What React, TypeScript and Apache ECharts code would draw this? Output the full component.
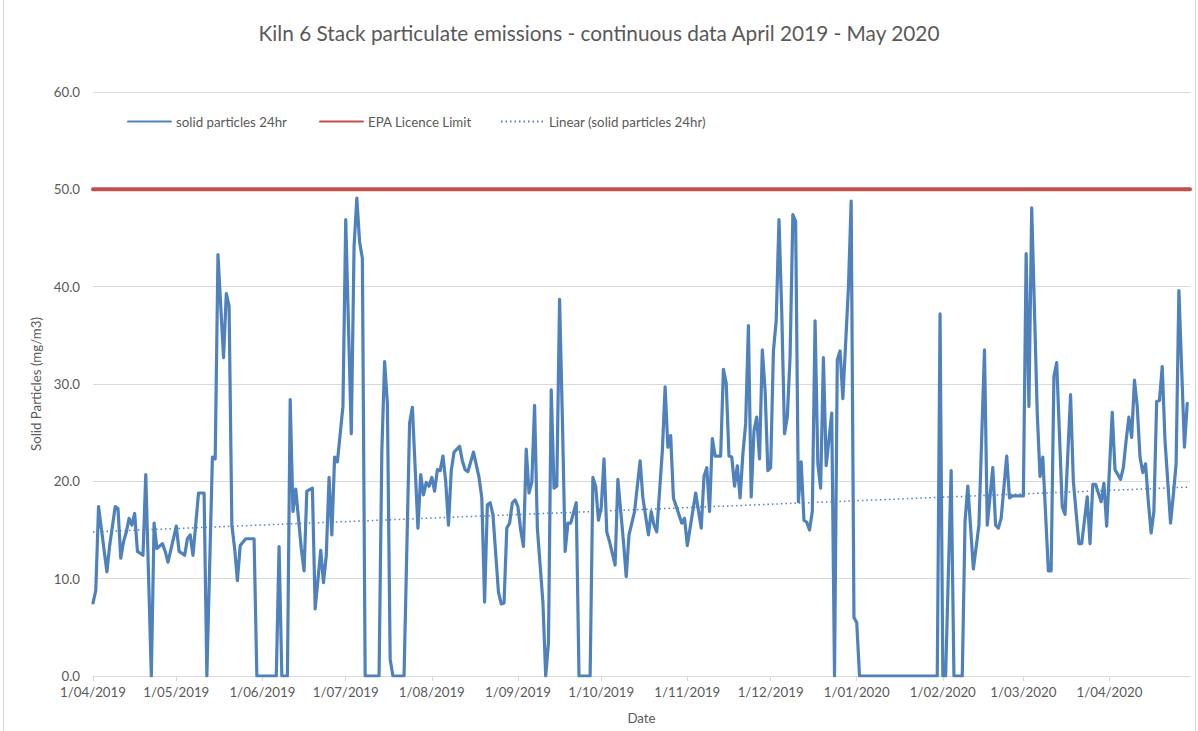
import React, { useEffect, useRef } from "react";
import * as echarts from "echarts";

const chartTitle = "Kiln 6 Stack particulate emissions - continuous data April 2019 - May 2020";
const yAxisTitle = "Solid Particles (mg/m3)";
const xAxisTitle = "Date";
const seriesNames = ["solid particles 24hr", "EPA Licence Limit", "Linear (solid particles 24hr)"];

const monthTicks = [
  "1/04/2019", "1/05/2019", "1/06/2019", "1/07/2019", "1/08/2019", "1/09/2019", "1/10/2019",
  "1/11/2019", "1/12/2019", "1/01/2020", "1/02/2020", "1/03/2020", "1/04/2020",
];
const axisStartDate = "2019-04-01";
const axisEndDate = "2020-04-30";

const solidParticles24hr: [string, number][] = [
  ["2019-04-01", 7.5], ["2019-04-02", 8.8], ["2019-04-03", 17.4], ["2019-04-06", 10.7], ["2019-04-07", 13.4],
  ["2019-04-09", 17.4], ["2019-04-10", 17.2], ["2019-04-11", 12.1], ["2019-04-12", 13.8], ["2019-04-13", 14.8],
  ["2019-04-14", 16.2], ["2019-04-15", 15.5], ["2019-04-16", 16.7], ["2019-04-17", 12.8], ["2019-04-19", 12.4],
  ["2019-04-20", 20.7], ["2019-04-22", 0], ["2019-04-23", 15.7], ["2019-04-24", 13.1], ["2019-04-26", 13.6],
  ["2019-04-27", 12.8], ["2019-04-28", 11.7],
  ["2019-05-01", 15.4], ["2019-05-02", 12.8], ["2019-05-04", 12.4], ["2019-05-05", 14.1], ["2019-05-06", 14.5],
  ["2019-05-07", 12.4], ["2019-05-09", 18.8], ["2019-05-11", 18.8], ["2019-05-12", 0], ["2019-05-14", 22.5],
  ["2019-05-15", 22.3], ["2019-05-16", 43.3], ["2019-05-18", 32.7], ["2019-05-19", 39.3], ["2019-05-20", 38.0],
  ["2019-05-21", 15.5], ["2019-05-22", 13.1], ["2019-05-23", 9.8], ["2019-05-24", 13.4], ["2019-05-26", 14.1],
  ["2019-05-29", 14.1], ["2019-05-30", 0],
  ["2019-06-06", 0], ["2019-06-07", 13.3], ["2019-06-08", 0], ["2019-06-10", 0], ["2019-06-11", 28.4],
  ["2019-06-12", 16.9], ["2019-06-13", 19.2], ["2019-06-15", 13.1], ["2019-06-16", 10.8], ["2019-06-17", 19.0],
  ["2019-06-19", 19.3], ["2019-06-20", 6.9], ["2019-06-22", 12.9], ["2019-06-23", 9.6], ["2019-06-24", 12.4],
  ["2019-06-25", 20.4], ["2019-06-26", 14.5], ["2019-06-27", 22.5], ["2019-06-28", 22.0], ["2019-06-30", 27.7],
  ["2019-07-01", 46.9], ["2019-07-03", 24.9], ["2019-07-04", 44.1], ["2019-07-05", 49.1], ["2019-07-06", 44.6],
  ["2019-07-07", 42.9], ["2019-07-08", 0], ["2019-07-13", 0], ["2019-07-14", 23.1], ["2019-07-15", 32.3],
  ["2019-07-16", 28.0], ["2019-07-17", 1.7], ["2019-07-18", 0], ["2019-07-22", 0], ["2019-07-24", 26.0],
  ["2019-07-25", 27.6], ["2019-07-27", 15.2], ["2019-07-28", 20.7], ["2019-07-29", 18.6], ["2019-07-30", 19.9],
  ["2019-07-31", 19.5],
  ["2019-08-01", 20.4], ["2019-08-02", 19.0], ["2019-08-03", 21.2], ["2019-08-04", 21.1], ["2019-08-05", 22.6],
  ["2019-08-06", 20.0], ["2019-08-07", 15.5], ["2019-08-08", 21.1], ["2019-08-09", 23.0], ["2019-08-11", 23.6],
  ["2019-08-12", 22.1], ["2019-08-13", 21.2], ["2019-08-14", 21.0], ["2019-08-16", 23.0], ["2019-08-18", 20.4],
  ["2019-08-19", 18.3], ["2019-08-20", 7.6], ["2019-08-21", 17.6], ["2019-08-22", 17.8], ["2019-08-23", 16.6],
  ["2019-08-25", 8.6], ["2019-08-26", 7.4], ["2019-08-27", 7.5], ["2019-08-28", 15.2], ["2019-08-29", 15.7],
  ["2019-08-30", 17.8], ["2019-08-31", 18.1],
  ["2019-09-01", 17.4], ["2019-09-02", 15.0], ["2019-09-03", 13.3], ["2019-09-04", 23.3], ["2019-09-05", 18.8],
  ["2019-09-06", 19.9], ["2019-09-07", 27.8], ["2019-09-08", 15.2], ["2019-09-10", 7.6], ["2019-09-11", 0],
  ["2019-09-12", 3.4], ["2019-09-13", 29.4], ["2019-09-14", 19.3], ["2019-09-15", 19.5], ["2019-09-16", 38.7],
  ["2019-09-17", 26.6], ["2019-09-18", 12.8], ["2019-09-19", 15.7], ["2019-09-20", 15.7], ["2019-09-22", 17.8],
  ["2019-09-23", 0], ["2019-09-27", 0], ["2019-09-28", 20.4], ["2019-09-29", 19.5], ["2019-09-30", 16.0],
  ["2019-10-01", 17.3], ["2019-10-02", 22.3], ["2019-10-03", 14.8], ["2019-10-04", 13.8], ["2019-10-06", 11.4],
  ["2019-10-07", 20.2], ["2019-10-09", 13.8], ["2019-10-10", 10.2], ["2019-10-11", 14.5], ["2019-10-13", 16.9],
  ["2019-10-15", 22.1], ["2019-10-16", 18.3], ["2019-10-18", 14.5], ["2019-10-19", 16.9], ["2019-10-20", 15.5],
  ["2019-10-21", 14.8], ["2019-10-23", 23.1], ["2019-10-24", 29.7], ["2019-10-25", 23.5], ["2019-10-26", 24.7],
  ["2019-10-27", 18.3], ["2019-10-30", 15.7], ["2019-10-31", 16.2],
  ["2019-11-01", 13.4], ["2019-11-04", 18.8], ["2019-11-06", 15.2], ["2019-11-07", 20.5], ["2019-11-08", 21.4],
  ["2019-11-09", 16.9], ["2019-11-10", 24.4], ["2019-11-11", 22.6], ["2019-11-13", 22.6], ["2019-11-14", 31.5],
  ["2019-11-15", 30.1], ["2019-11-16", 22.6], ["2019-11-17", 22.5], ["2019-11-18", 19.5], ["2019-11-19", 21.6],
  ["2019-11-20", 18.3], ["2019-11-21", 22.8], ["2019-11-22", 25.9], ["2019-11-23", 36.0], ["2019-11-24", 18.4],
  ["2019-11-25", 25.2], ["2019-11-26", 26.6], ["2019-11-27", 22.3], ["2019-11-28", 33.5], ["2019-11-29", 29.4],
  ["2019-11-30", 21.1],
  ["2019-12-01", 21.4], ["2019-12-02", 33.4], ["2019-12-03", 36.5], ["2019-12-04", 46.9], ["2019-12-05", 37.4],
  ["2019-12-06", 24.9], ["2019-12-07", 26.6], ["2019-12-08", 32.8], ["2019-12-09", 47.4], ["2019-12-10", 46.7],
  ["2019-12-11", 17.9], ["2019-12-12", 22.0], ["2019-12-13", 16.0], ["2019-12-14", 15.8], ["2019-12-15", 15.0],
  ["2019-12-16", 16.9], ["2019-12-17", 36.5], ["2019-12-18", 21.8], ["2019-12-19", 19.3], ["2019-12-20", 32.7],
  ["2019-12-21", 21.6], ["2019-12-23", 27.0], ["2019-12-24", 0], ["2019-12-25", 32.5], ["2019-12-26", 33.4],
  ["2019-12-27", 28.5], ["2019-12-29", 39.8], ["2019-12-30", 48.8], ["2019-12-31", 6.0],
  ["2020-01-01", 5.5], ["2020-01-02", 0], ["2020-01-30", 0], ["2020-01-31", 37.2],
  ["2020-02-01", 0], ["2020-02-02", 0], ["2020-02-04", 21.1], ["2020-02-05", 0], ["2020-02-08", 0],
  ["2020-02-09", 15.9], ["2020-02-10", 19.5], ["2020-02-12", 11.0], ["2020-02-14", 15.5], ["2020-02-16", 33.5],
  ["2020-02-17", 15.5], ["2020-02-19", 21.4], ["2020-02-20", 15.5], ["2020-02-21", 15.2], ["2020-02-22", 16.2],
  ["2020-02-24", 22.6], ["2020-02-25", 18.3], ["2020-02-26", 18.5],
  ["2020-03-01", 18.5], ["2020-03-02", 43.4], ["2020-03-03", 27.7], ["2020-03-04", 48.1], ["2020-03-06", 27.0],
  ["2020-03-07", 20.5], ["2020-03-08", 22.5], ["2020-03-10", 10.8], ["2020-03-11", 10.8], ["2020-03-12", 30.8],
  ["2020-03-13", 32.2], ["2020-03-15", 17.4], ["2020-03-16", 16.6], ["2020-03-18", 28.9], ["2020-03-19", 20.0],
  ["2020-03-21", 13.6], ["2020-03-22", 13.6], ["2020-03-24", 18.4], ["2020-03-25", 13.6], ["2020-03-26", 19.7],
  ["2020-03-27", 19.7], ["2020-03-29", 17.9], ["2020-03-30", 19.8], ["2020-03-31", 15.4],
  ["2020-04-02", 27.1], ["2020-04-03", 21.2], ["2020-04-05", 20.2], ["2020-04-06", 21.4], ["2020-04-07", 24.2],
  ["2020-04-08", 26.6], ["2020-04-09", 24.5], ["2020-04-10", 30.4], ["2020-04-11", 27.7], ["2020-04-12", 22.5],
  ["2020-04-13", 20.9], ["2020-04-14", 21.8], ["2020-04-15", 17.9], ["2020-04-16", 14.7], ["2020-04-17", 16.9],
  ["2020-04-18", 28.2], ["2020-04-19", 28.3], ["2020-04-20", 31.8], ["2020-04-21", 24.2], ["2020-04-23", 15.7],
  ["2020-04-24", 18.6], ["2020-04-25", 21.8], ["2020-04-26", 39.6], ["2020-04-28", 23.5], ["2020-04-29", 28.0],
];

const epaLicenceLimit = 50;
const trendStartValue = 14.8;
const trendEndValue = 19.4;

const FONT = "Lato, 'Liberation Sans', sans-serif";
const TEXT = "#595959";
const GRID = "#D9D9D9";
const BLUE = "#4F81BD";
const RED = "#C0504D";
const SMALL = 13.3;

const ORIGIN = Date.UTC(2019, 3, 1);
const isoDay = (iso: string) => {
  const [y, m, d] = iso.split("-").map(Number);
  return Math.round((Date.UTC(y, m - 1, d) - ORIGIN) / 86400000);
};
const labelDay = (lbl: string) => {
  const [d, m, y] = lbl.split("/").map(Number);
  return Math.round((Date.UTC(y, m - 1, d) - ORIGIN) / 86400000);
};

export default function App() {
  const ref = useRef<HTMLDivElement>(null);
  useEffect(() => {
    if (!ref.current) return;
    const chart = echarts.init(ref.current, undefined, { renderer: "svg" });
    const tickDays = monthTicks.map(labelDay);
    const labelByDay: Record<number, string> = {};
    monthTicks.forEach((l, i) => (labelByDay[tickDays[i]] = l));
    const xMin = isoDay(axisStartDate);
    const xMax = isoDay(axisEndDate);
    const mainData = solidParticles24hr.map(([d, v]) => [isoDay(d), v]);
    const firstDay = mainData[0][0] as number;
    const lastDay = mainData[mainData.length - 1][0] as number;

    chart.setOption({
      animation: false,
      backgroundColor: "#ffffff",
      title: {
        text: chartTitle,
        left: "center",
        top: 17,
        textStyle: { fontFamily: FONT, fontSize: 20.8, fontWeight: "normal", color: TEXT },
      },
      legend: [
        { data: [seriesNames[0]], left: 127, top: 115 },
        { data: [seriesNames[1]], left: 319, top: 115 },
        { data: [seriesNames[2]], left: 500, top: 115 },
      ].map((l) => ({
        ...l,
        padding: 0,
        itemWidth: 43,
        itemHeight: 14,
        itemGap: 4,
        itemStyle: { opacity: 0 },
        textStyle: { fontFamily: FONT, fontSize: SMALL, color: TEXT },
      })),
      grid: { left: 93, right: 8, top: 92, bottom: 55, containLabel: false },
      graphic: [
        {
          type: "rect",
          shape: { x: 3.5, y: -10, width: 1192, height: 760 },
          style: { fill: "none", stroke: GRID, lineWidth: 1 },
          silent: true,
          z: -10,
        },
      ],
      xAxis: {
        type: "value",
        min: xMin,
        max: xMax,
        name: xAxisTitle,
        nameLocation: "middle",
        nameGap: 35,
        nameTextStyle: { fontFamily: FONT, fontSize: SMALL, color: TEXT },
        axisLine: { show: true, lineStyle: { color: GRID, width: 1 } },
        axisTick: { show: true, customValues: tickDays, length: 5, lineStyle: { color: GRID } },
        axisLabel: {
          customValues: tickDays,
          formatter: (v: number) => labelByDay[v] ?? "",
          fontFamily: FONT,
          fontSize: SMALL,
          color: TEXT,
          margin: 9,
        },
        splitLine: { show: false },
      },
      yAxis: {
        type: "value",
        min: 0,
        max: 60,
        interval: 10,
        name: yAxisTitle,
        nameLocation: "middle",
        nameGap: 46,
        nameRotate: 90,
        nameTextStyle: { fontFamily: FONT, fontSize: SMALL, color: TEXT },
        axisLine: { show: false },
        axisTick: { show: false },
        axisLabel: {
          formatter: (v: number) => v.toFixed(1),
          fontFamily: FONT,
          fontSize: SMALL,
          color: TEXT,
          margin: 13,
        },
        splitLine: { lineStyle: { color: GRID, width: 1 } },
      },
      series: [
        {
          name: seriesNames[0],
          type: "line",
          data: mainData,
          showSymbol: false,
          symbol: "none",
          lineStyle: { color: BLUE, width: 3.2, join: "round", cap: "round" },
          itemStyle: { color: BLUE },
          z: 3,
        },
        {
          name: seriesNames[1],
          type: "line",
          data: [
            [firstDay, epaLicenceLimit],
            [xMax, epaLicenceLimit],
          ],
          showSymbol: false,
          symbol: "none",
          lineStyle: { color: RED, width: 4, cap: "round" },
          itemStyle: { color: RED },
          z: 2,
        },
        {
          name: seriesNames[2],
          type: "line",
          data: [
            [firstDay, trendStartValue],
            [lastDay, trendEndValue],
          ],
          showSymbol: false,
          symbol: "none",
          lineStyle: { color: BLUE, width: 1.5, type: [1.5, 3] },
          itemStyle: { color: BLUE },
          z: 4,
        },
      ],
    });
    return () => chart.dispose();
  }, []);
  return (
    <div
      ref={ref}
      style={{ position: "absolute", left: 0, top: 0, width: 1198, height: 731, background: "#fff" }}
    />
  );
}
